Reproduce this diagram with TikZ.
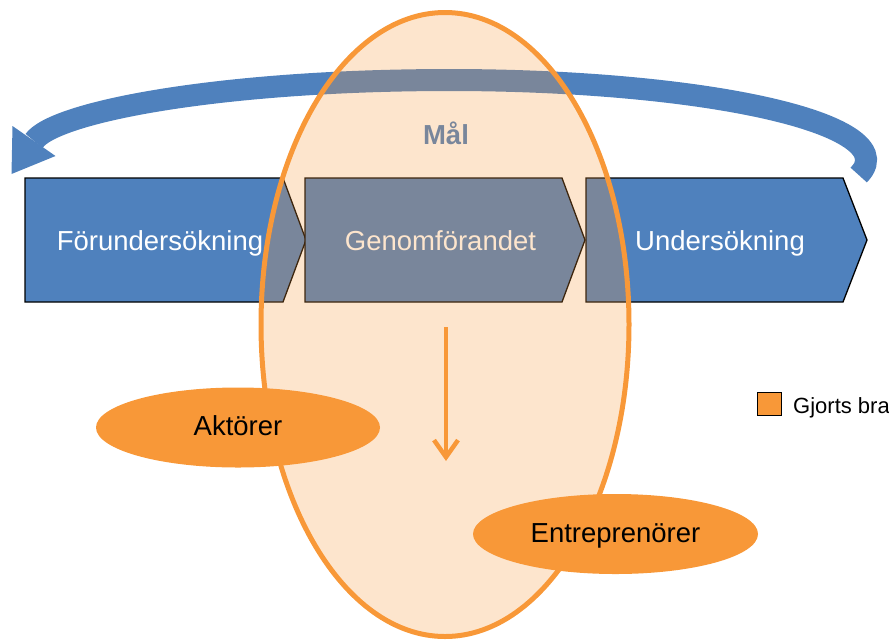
\documentclass[tikz,border=0pt]{standalone}
\usepackage{fontspec}
\setmainfont{Liberation Sans}
\usetikzlibrary{arrows.meta,shapes.geometric}
\definecolor{stepblue}{RGB}{79,129,189}
\definecolor{goalorange}{RGB}{248,152,56}
\begin{document}
\begin{tikzpicture}[x=1pt,y=-1pt,
  chevron/.style={fill=stepblue, draw=black, line width=1.3pt, line join=miter},
  steptext/.style={text=white, font=\fontsize{27.5}{33}\selectfont, inner sep=0pt, anchor=base},
  actor/.style={ellipse, fill=goalorange, inner sep=0pt, minimum width=284pt,
    minimum height=80pt, text height=16pt, text depth=0pt,
    font=\fontsize{27.5}{33}\selectfont},
  loopband/.style={draw=stepblue, line width=22pt, line cap=butt}
]
\useasboundingbox (0,0) rectangle (889,641);

% feedback loop running back over the three phases
\coordinate (loopstart) at (858.7,175);
\coordinate (loopend) at (34,141);
\draw[loopband] (loopstart) arc[start angle=10.8, end angle=-90, x radius=416, y radius=80]
  .. controls (220,80) and (54,112) .. (loopend);
\fill[stepblue] (12.5,126) -- (55.5,156) -- (11.5,174) -- cycle;

% the three phases
\draw[chevron] (25,178) -- (283,178) -- (306,240) -- (283,302) -- (25,302) -- cycle;
\draw[chevron] (305,178) -- (562,178) -- (585,240) -- (562,302) -- (305,302) -- cycle;
\draw[chevron] (586,178) -- (843,178) -- (867,240) -- (843,302) -- (586,302) -- cycle;
\node[steptext] (pre) at (160,250) {Förundersökning};
\node[steptext] (genom) at (440.5,250) {Genomförandet};
\node[steptext] (under) at (720,250) {Undersökning};
\node[inner sep=0pt, anchor=base, text=stepblue,
  font=\bfseries\fontsize{27.5}{33}\selectfont] (mal) at (446,144) {Mål};

% goal area laid over the phases
\node[ellipse, draw=goalorange, line width=5pt, fill=goalorange, fill opacity=0.25,
  minimum width=368pt, minimum height=624pt, inner sep=0pt] (goal) at (445,324.5) {};

% downward arrow inside the goal area
\coordinate (downtop) at (446,327);
\coordinate (downtip) at (446,461);
\draw[goalorange, line width=4.5pt, -{Straight Barb[length=17pt,width=24pt]}] (downtop) -- (downtip);

% actors
\node[actor] (akt) at (238,427.5) {Aktörer};
\node[actor, minimum width=285pt] (entr) at (615.5,534) {Entreprenörer};

% legend
\node[draw=black, line width=1pt, fill=goalorange, minimum width=24pt,
  minimum height=23pt, inner sep=0pt] (legbox) at (769,403.5) {};
\node[anchor=base west, inner sep=0pt, font=\fontsize{22}{26}\selectfont] (legtxt)
  at (793,413) {Gjorts bra};
\end{tikzpicture}
\end{document}
